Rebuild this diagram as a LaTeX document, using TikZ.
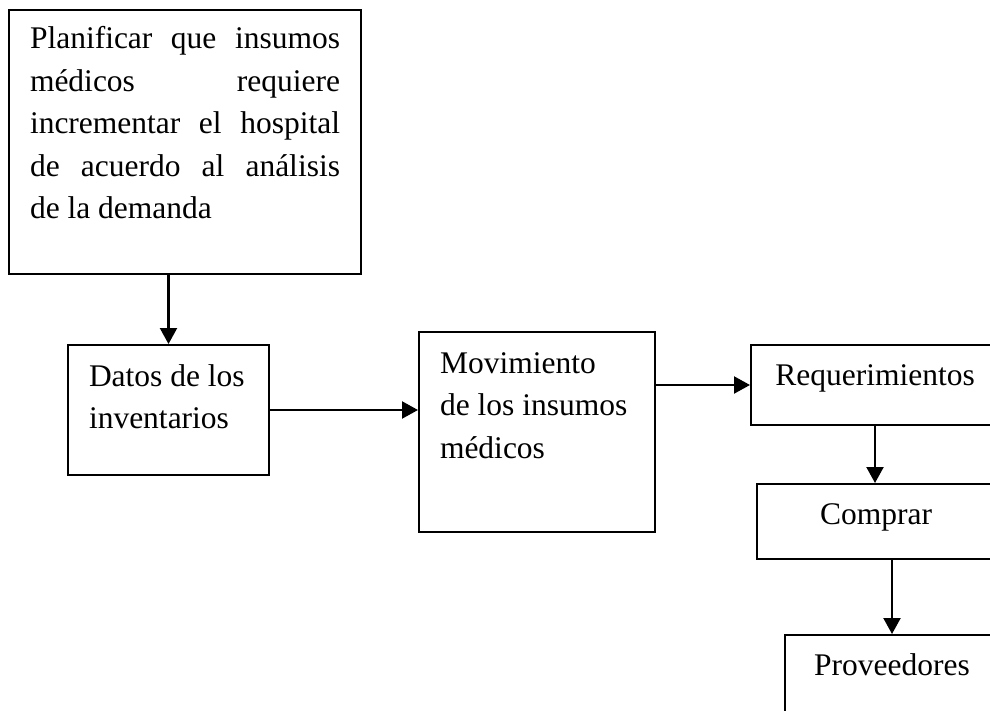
\documentclass[tikz,border=0pt]{standalone}
\usepackage{fontspec}
\setmainfont{Liberation Serif}
\usetikzlibrary{arrows.meta}
\hbadness=10000

\begin{document}
\begin{tikzpicture}[x=1pt, y=-1pt,
  box/.style={draw, line width=2pt, anchor=north west, inner ysep=0pt,
              inner xsep=21pt, font=\fontsize{31.5}{42.5}\selectfont},
  cbox/.style={box, inner xsep=0pt},
  arr/.style={-{Triangle[length=16pt, width=17pt]}, line width=2.2pt}
]
  \useasboundingbox (0,0) rectangle (990,711);
  \clip (0,0) rectangle (990,711);

  % cajas
  \node[box] (plan) at (8,9) {\parbox[t][264pt][t]{310pt}{\rule{0pt}{39pt}Planificar que insumos\linebreak
    médicos requiere\linebreak incrementar el hospital\linebreak de acuerdo al análisis\linebreak de la demanda}};
  \node[box] (datos) at (67,344) {\parbox[t][130pt][t]{159pt}{\raggedright\rule{0pt}{41pt}Datos de los\\inventarios}};
  \node[box] (mov) at (418,331) {\parbox[t][200pt][t]{194pt}{\raggedright\rule{0pt}{41pt}Movimiento\\de los insumos\\médicos}};
  \node[cbox] (req) at (750,344) {\parbox[t][80pt][t]{248pt}{\centering\rule{0pt}{40pt}Requerimientos}};
  \node[cbox] (comp) at (756,483) {\parbox[t][75pt][t]{238pt}{\centering\rule{0pt}{40pt}Comprar}};
  \node[cbox] (prov) at (784,634) {\parbox[t][110pt][t]{214pt}{\centering\rule{0pt}{40pt}Proveedores}};

  % flechas
  \draw[arr] (datos.north |- plan.south) -- (datos.north);
  \draw[arr] (datos.east) -- (datos.east -| mov.west);
  \draw[arr] (mov.east |- req.west) -- (req.west);
  \draw[arr] (req.south) -- (req.south |- comp.north);
  \draw[arr] (prov.north |- comp.south) -- (prov.north);
\end{tikzpicture}
\end{document}
